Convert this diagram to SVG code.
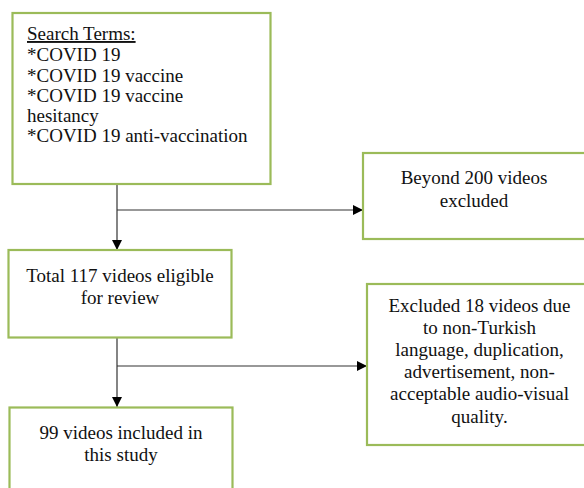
<svg xmlns="http://www.w3.org/2000/svg" width="584" height="488" viewBox="0 0 584 488">
<defs>
<style>
.box{fill:#fff;stroke:#9BBB59;stroke-width:2.2}
.t{font-family:"Liberation Serif","Times New Roman",serif;font-size:19px;fill:#111}
.c{text-anchor:middle}
.ln{stroke:#333;stroke-width:1.2;fill:none}
</style>
<marker id="ah" markerWidth="10" markerHeight="10" refX="10" refY="5" orient="auto" markerUnits="userSpaceOnUse">
<path d="M0,0 L10,5 L0,10 Z" fill="#000"/>
</marker>
</defs>
<rect width="584" height="488" fill="#fff"/>
<g id="connectors">
<line class="ln" x1="117" y1="184" x2="117" y2="250" marker-end="url(#ah)"/>
<line class="ln" x1="117" y1="210" x2="363" y2="210" marker-end="url(#ah)"/>
<line class="ln" x1="117" y1="338" x2="117" y2="407" marker-end="url(#ah)"/>
<line class="ln" x1="117" y1="366" x2="367" y2="366" marker-end="url(#ah)"/>
</g>
<g id="search">
<rect class="box" x="12.5" y="13" width="258" height="171"/>
<text class="t" x="27" y="40" text-decoration="underline">Search Terms:</text>
<text class="t" x="27" y="61">*COVID 19</text>
<text class="t" x="27" y="81.5">*COVID 19 vaccine</text>
<text class="t" x="27" y="102">*COVID 19 vaccine</text>
<text class="t" x="27" y="122">hesitancy</text>
<text class="t" x="27" y="142">*COVID 19 anti-vaccination</text>
</g>
<g id="beyond">
<rect class="box" x="363" y="153" width="230" height="86"/>
<text class="t c" x="474" y="183.5">Beyond 200 videos</text>
<text class="t c" x="474" y="207">excluded</text>
</g>
<g id="total">
<rect class="box" x="8.5" y="250" width="223" height="87.5"/>
<text class="t c" x="120" y="282">Total 117 videos eligible</text>
<text class="t c" x="120" y="304">for review</text>
</g>
<g id="excluded">
<rect class="box" x="367" y="284" width="230" height="161"/>
<text class="t c" x="479.5" y="311.5">Excluded 18 videos due</text>
<text class="t c" x="479.5" y="334">to non-Turkish</text>
<text class="t c" x="479.5" y="356">language, duplication,</text>
<text class="t c" x="479.5" y="378">advertisement, non-</text>
<text class="t c" x="479.5" y="400">acceptable audio-visual</text>
<text class="t c" x="479.5" y="422.5">quality.</text>
</g>
<g id="included">
<rect class="box" x="9.5" y="407.5" width="223" height="90"/>
<text class="t c" x="121" y="439">99 videos included in</text>
<text class="t c" x="121" y="461">this study</text>
</g>
</svg>
